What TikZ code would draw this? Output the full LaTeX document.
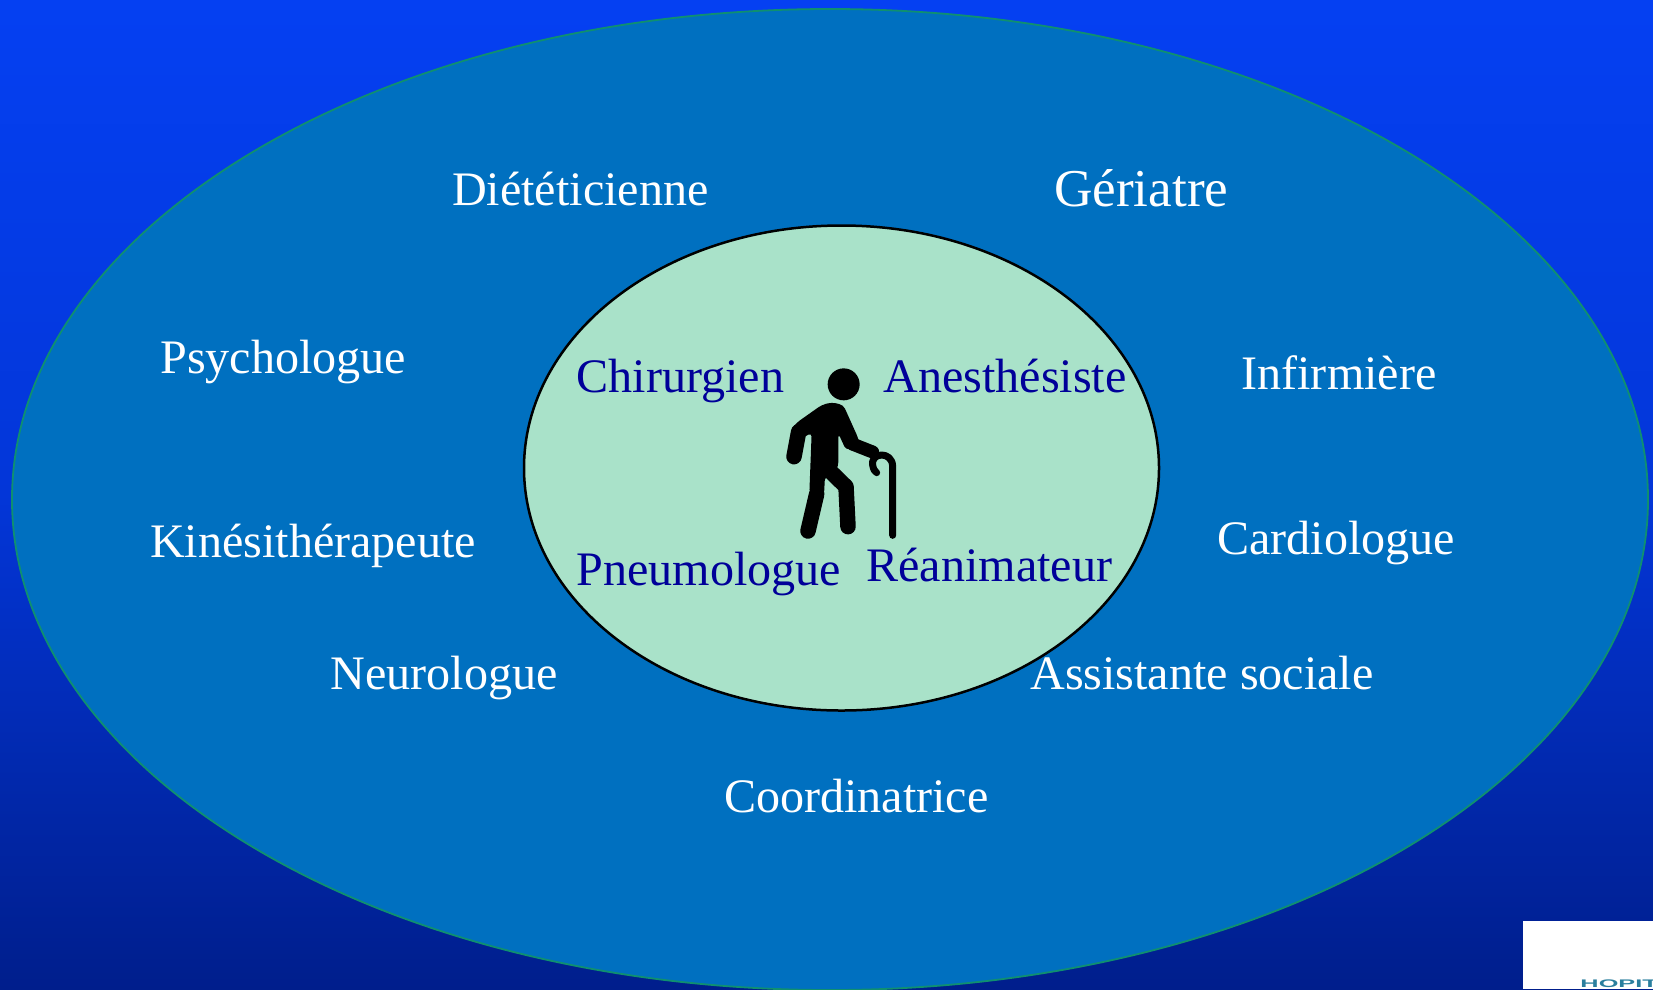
\documentclass[tikz,border=0pt]{standalone}
\usepackage{fontspec}
\setmainfont{Liberation Serif}
\newfontfamily\logofont{Liberation Sans}
\definecolor{bgtop}{HTML}{0540F2}
\definecolor{bgmid}{HTML}{0336D8}
\definecolor{bgbot}{HTML}{001E8C}
\definecolor{outerfill}{HTML}{0070C0}
\definecolor{outerline}{HTML}{0F9070}
\definecolor{innerfill}{HTML}{A9E2C9}
\definecolor{innertext}{HTML}{000099}
\definecolor{logoteal}{HTML}{2A7F9E}
\tikzset{
  outerlabel/.style={anchor=base,inner sep=0pt,text=white,font=\fontsize{48.1}{50}\selectfont},
  biglabel/.style={anchor=base,inner sep=0pt,text=white,font=\fontsize{53.2}{55}\selectfont},
  innerlabel/.style={anchor=base,inner sep=0pt,text=innertext,font=\fontsize{48.1}{50}\selectfont},
  limb/.style={black,line cap=round,line join=round}
}
\begin{document}
\begin{tikzpicture}[x=1pt,y=-1pt]
\useasboundingbox (0,0) rectangle (1653,989);
\clip (0,0) rectangle (1653,989);
\shade[top color=bgtop,bottom color=bgbot,middle color=bgmid] (0,0) rectangle (1653,989);
\fill[outerfill,draw=outerline,line width=1.8pt] (830,499.5) ellipse [x radius=818,y radius=490.5];
\fill[innerfill,draw=black,line width=2.5pt] (841.5,468) ellipse [x radius=317.5,y radius=242.5];
% logo patch
\fill[white] (1523,921) rectangle (1653,989);
\node[anchor=base west,inner sep=0pt,text=logoteal,font=\logofont\fontsize{11}{12}\selectfont\bfseries,xscale=2.3] (logo) at (1580,987) {HOPIT};
% labels
\node[outerlabel] (diet) at (580.3,205.6) {Diététicienne};
\node[biglabel] (ger) at (1141.3,206.6) {Gériatre};
\node[outerlabel] (psy) at (283.3,373) {Psychologue};
\node[outerlabel] (inf) at (1339,389) {Infirmière};
\node[outerlabel] (kin) at (313,557) {Kinésithérapeute};
\node[outerlabel] (car) at (1336,554.5) {Cardiologue};
\node[outerlabel] (neu) at (444,689.5) {Neurologue};
\node[outerlabel] (ass) at (1202,689.5) {Assistante sociale};
\node[outerlabel] (coo) at (856.3,812) {Coordinatrice};
\node[innerlabel] (chi) at (680.5,392) {Chirurgien};
\node[innerlabel] (ane) at (1005,392) {Anesthésiste};
\node[innerlabel] (pne) at (709,585) {Pneumologue};
\node[innerlabel] (rea) at (989.3,581) {Réanimateur};
% walking figure
\begin{scope}[shift={(760,350)},x=0.3333pt,y=-0.3333pt]
\fill[black] (251,103) circle [radius=48];
\fill[black,rounded corners=4pt]
  (215,157) -- (250,165) -- (295,265) -- (300,290) -- (258,300) -- (235,250)
  -- (235,348) -- (215,385) -- (195,378) -- (192,435) -- (148,430) -- (155,248)
  -- (135,260) -- (110,270) -- (97,235) -- (110,218) -- (185,165) -- cycle;
\draw[limb,line width=15.5pt] (116,245) -- (102,320);
\draw[limb,line width=15.5pt] (170,432) -- (144,543);
\draw[limb,line width=15.5pt] (215,368) -- (258,410) -- (264,530);
\draw[limb,line width=13pt] (277,282) -- (338,306);
\draw[limb,line width=7pt]
  (398,556) -- (398,350) .. controls (398,325) and (380,315) .. (365,315)
  .. controls (345,315) and (335,330) .. (338,345) .. controls (340,358) and (345,366) .. (350,368);
\end{scope}
\end{tikzpicture}
\end{document}
